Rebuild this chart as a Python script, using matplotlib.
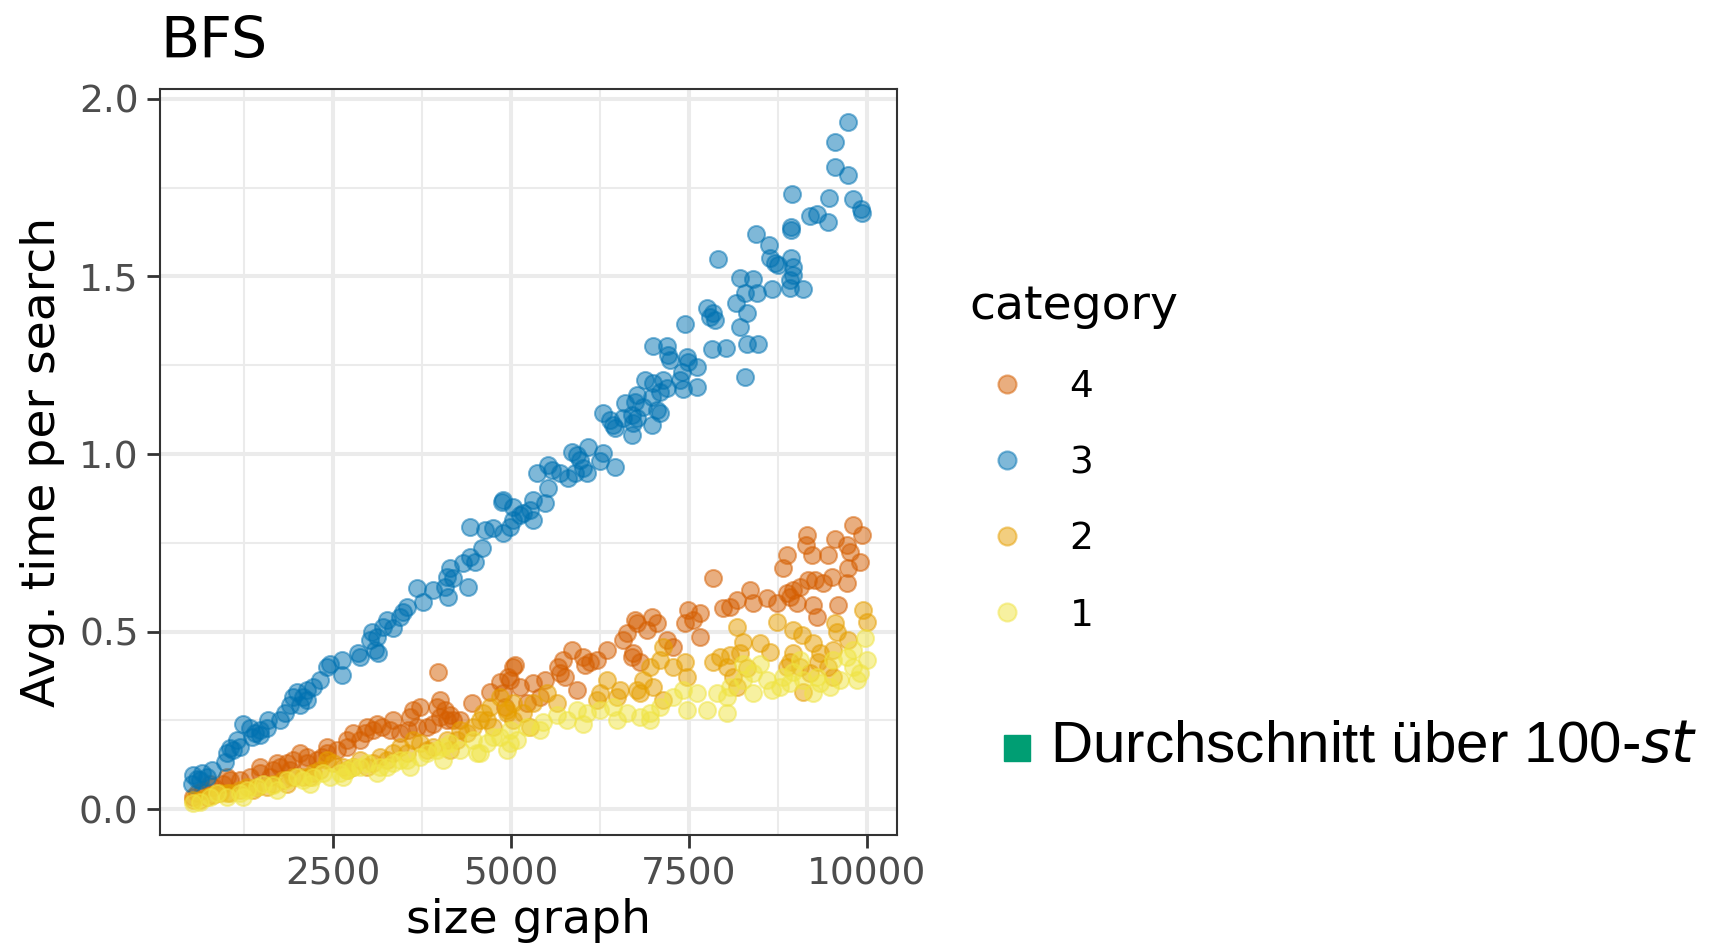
import matplotlib
matplotlib.use("Agg")
import matplotlib.pyplot as plt
from matplotlib.lines import Line2D
from matplotlib.colors import to_rgba

# category order as in the legend
categories = ["4", "3", "2", "1"]
palette = ["#D55E00", "#0072B2", "#E69F00", "#F0E442"]

# category 3 (blue)
size_3 = [9739, 9553, 9553, 9739, 8944, 9473, 9801, 9920, 9935, 9201, 9295, 9459,
          8930, 8930, 8443, 8630, 7913, 8640, 8710, 8757, 8930, 8958, 8967, 8920,
          8218, 8405, 8663, 8920, 9099, 8288, 8452, 8162, 8312, 8218, 7750, 7796,
          7866, 7843, 7445, 8320, 8475, 7820, 8021, 8288, 6991, 7188, 7211, 7234,
          7469, 7492, 7610, 7399, 7375, 7618, 7413, 6883, 7000, 7141, 7188, 7094,
          6977, 6766, 6602, 6743, 6860, 7047, 7094, 6977, 6297, 6391, 6461, 6438,
          6696, 6766, 6719, 6696, 6579, 5361, 5524, 5572, 5689, 5853, 5923, 6086,
          5970, 6017, 5900, 6251, 6297, 6461, 5806, 6063, 5524, 5316, 5480, 4892,
          5033, 5127, 5268, 5316, 5175, 4870, 4424, 4635, 4752, 4892, 4986, 5033,
          4589, 4424, 4495, 4330, 4401, 4143, 4097, 4190, 4120, 4073, 3909, 3768,
          3675, 3535, 3441, 3488, 3254, 3347, 3206, 3043, 3113, 3019, 3136, 3090,
          2855, 2879, 2622, 2622, 2411, 2457, 2317, 2224, 2130, 2083, 1942, 1896,
          2036, 2130, 1990, 1825, 1755, 1591, 1568, 1474, 1404, 1334, 1240, 1358,
          1474, 1147, 1052, 1006, 1099, 982, 1193, 795, 655, 584, 514, 631, 725, 537]
time_3 = [1.934, 1.880, 1.809, 1.786, 1.732, 1.720, 1.717, 1.690, 1.680, 1.670, 1.676, 1.654,
          1.640, 1.631, 1.620, 1.589, 1.549, 1.551, 1.537, 1.532, 1.551, 1.528, 1.504, 1.490,
          1.495, 1.492, 1.465, 1.467, 1.465, 1.453, 1.453, 1.425, 1.398, 1.357, 1.410, 1.387,
          1.377, 1.396, 1.365, 1.310, 1.310, 1.295, 1.298, 1.218, 1.305, 1.304, 1.279, 1.265,
          1.274, 1.260, 1.246, 1.232, 1.208, 1.190, 1.182, 1.208, 1.199, 1.208, 1.185, 1.175,
          1.161, 1.166, 1.143, 1.147, 1.133, 1.124, 1.115, 1.082, 1.115, 1.096, 1.072, 1.082,
          1.110, 1.101, 1.087, 1.054, 1.101, 0.946, 0.969, 0.955, 0.946, 1.007, 0.997, 1.021,
          0.983, 0.960, 0.946, 0.979, 1.002, 0.964, 0.932, 0.946, 0.903, 0.870, 0.861, 0.870,
          0.852, 0.828, 0.842, 0.814, 0.833, 0.866, 0.795, 0.786, 0.791, 0.777, 0.795, 0.814,
          0.734, 0.711, 0.697, 0.692, 0.626, 0.678, 0.654, 0.650, 0.598, 0.626, 0.617, 0.584,
          0.622, 0.570, 0.542, 0.556, 0.532, 0.509, 0.513, 0.499, 0.485, 0.476, 0.439, 0.448,
          0.439, 0.429, 0.420, 0.377, 0.401, 0.410, 0.363, 0.345, 0.335, 0.316, 0.316, 0.293,
          0.293, 0.307, 0.330, 0.270, 0.251, 0.251, 0.227, 0.223, 0.213, 0.227, 0.241, 0.204,
          0.208, 0.194, 0.171, 0.157, 0.166, 0.133, 0.175, 0.110, 0.101, 0.086, 0.072, 0.082,
          0.091, 0.096]

# category 4 (vermillion)
size_4 = [9810, 9928, 9553, 9717, 9763, 9904, 9739, 9155, 9145, 9225, 9459, 8874,
          8826, 9717, 9599, 9506, 9388, 9272, 9178, 9061, 8967, 8920, 9014, 8874,
          9248, 9295, 8733, 8593, 8405, 8358, 8171, 8077, 7983, 7843, 7656, 7562,
          7492, 7445, 7656, 7281, 7188, 7047, 6977, 6907, 6766, 6743, 6626, 6579,
          6719, 6813, 6696, 6345, 6204, 6110, 6016, 5853, 5735, 5665, 5759, 5689,
          5923, 6040, 5057, 4986, 4892, 5127, 5314, 5478, 5408, 5221, 4916, 3979,
          5033, 4963, 4846, 4705, 4448, 4003, 4073, 4143, 4190, 4003, 3909, 3816,
          3628, 3581, 3675, 3558, 3441, 3300, 3184, 3066, 2949, 2879, 2785, 2692,
          2552, 2411, 2341, 2271, 2130, 2036, 1942, 1849, 1896, 1755, 1662, 1614,
          1474, 1334, 1193, 1052, 958, 818, 677, 584, 537,
          2411, 2692, 2973, 3113, 3347, 3722, 3956, 4097, 4284, 2130, 1708, 1474,
          1006, 771]
time_4 = [0.800, 0.772, 0.762, 0.744, 0.725, 0.697, 0.678, 0.772, 0.744, 0.715, 0.715, 0.715,
          0.678, 0.636, 0.575, 0.654, 0.636, 0.645, 0.645, 0.626, 0.617, 0.598, 0.579, 0.608,
          0.575, 0.542, 0.579, 0.594, 0.579, 0.617, 0.589, 0.570, 0.565, 0.650, 0.551, 0.532,
          0.561, 0.523, 0.485, 0.457, 0.476, 0.523, 0.542, 0.504, 0.523, 0.532, 0.495, 0.476,
          0.439, 0.415, 0.429, 0.448, 0.420, 0.415, 0.429, 0.448, 0.420, 0.401, 0.373, 0.382,
          0.335, 0.406, 0.406, 0.363, 0.326, 0.345, 0.354, 0.363, 0.316, 0.298, 0.288, 0.387,
          0.401, 0.373, 0.359, 0.330, 0.298, 0.307, 0.279, 0.265, 0.251, 0.260, 0.241, 0.232,
          0.279, 0.260, 0.232, 0.223, 0.213, 0.223, 0.232, 0.223, 0.213, 0.194, 0.213, 0.175,
          0.166, 0.157, 0.147, 0.138, 0.147, 0.157, 0.138, 0.129, 0.110, 0.119, 0.110, 0.091,
          0.101, 0.091, 0.082, 0.082, 0.072, 0.063, 0.054, 0.044, 0.035,
          0.175, 0.194, 0.232, 0.241, 0.251, 0.288, 0.288, 0.251, 0.251, 0.129, 0.129, 0.119,
          0.091, 0.072]

# category 2 (orange)
size_2 = [9951, 9998, 9553, 9577, 9739, 9529, 9342, 9248, 9085, 8967, 8733, 8967,
          8920, 9061, 9318, 9459, 9529, 9201, 9108, 8874, 8640, 8499, 8265, 8171,
          8218, 8077, 7937, 7843, 8031, 8124, 8171, 8312, 7445, 7469, 7281, 7140,
          7094, 6953, 6860, 6766, 7000, 7140, 6813, 6532, 6485, 6345, 6251, 6204,
          5642, 5502, 5314, 5173, 5033, 4940, 5268, 4846, 4705, 4611, 4565, 4752,
          4471, 4284, 4237, 4143, 3909, 3722, 3628, 3441, 3347, 3160, 3066, 2879,
          2785, 2644, 2504, 2411, 2317, 2224, 2083, 1942, 1801, 1662, 1568, 1427,
          1287, 1193, 1052, 912, 818, 725, 631, 537,
          5033, 4940, 4659, 4378, 4097, 3816, 3535, 3254, 2973, 2692, 2177, 1849,
          1380, 1006]
time_2 = [0.561, 0.528, 0.523, 0.499, 0.476, 0.448, 0.439, 0.467, 0.490, 0.504, 0.528, 0.439,
          0.415, 0.401, 0.415, 0.401, 0.373, 0.382, 0.330, 0.401, 0.443, 0.467, 0.471, 0.514,
          0.439, 0.434, 0.429, 0.415, 0.401, 0.373, 0.345, 0.396, 0.415, 0.373, 0.401, 0.457,
          0.420, 0.401, 0.363, 0.335, 0.345, 0.307, 0.326, 0.335, 0.316, 0.363, 0.326, 0.307,
          0.298, 0.326, 0.298, 0.270, 0.251, 0.279, 0.232, 0.316, 0.288, 0.270, 0.251, 0.232,
          0.232, 0.223, 0.194, 0.166, 0.175, 0.185, 0.194, 0.175, 0.157, 0.147, 0.129, 0.138,
          0.119, 0.119, 0.129, 0.138, 0.110, 0.101, 0.091, 0.091, 0.082, 0.072, 0.063, 0.063,
          0.063, 0.054, 0.044, 0.044, 0.039, 0.035, 0.025, 0.025,
          0.298, 0.270, 0.251, 0.213, 0.194, 0.166, 0.157, 0.138, 0.119, 0.110, 0.091, 0.072,
          0.054, 0.044]

# category 1 (yellow)
size_1 = [537, 631, 771, 865, 1006, 1193, 1287, 1427, 1521, 1662, 1849, 1990,
          2083, 2224, 2364, 2457, 2598, 2692, 2785, 2879, 2973, 3160, 3254, 3347,
          3441, 3535, 3722, 3816, 3956, 4050, 4143, 4284, 4471, 4565, 4659, 4752,
          4846, 4986, 5080, 4986, 5221, 5454, 5642, 5783, 5923, 6063, 6251, 6438,
          6626, 6813, 6953, 7094, 7281, 7421, 7609, 7750, 7890, 8031, 8077, 8265,
          8405, 8593, 8663, 8826, 8967, 9108, 9295, 9482, 9623, 9810, 9904, 9974,
          9998, 9717, 9342, 8920, 9529, 9061, 8499, 8265,
          1240, 1708, 2177, 2644, 3113, 3581, 4050, 4518, 4940, 5408, 6016, 6485,
          6953, 7469, 8031, 8405, 8780, 9248, 9857, 9810]
time_1 = [0.016, 0.021, 0.035, 0.044, 0.035, 0.044, 0.054, 0.063, 0.072, 0.068, 0.082, 0.091,
          0.082, 0.091, 0.101, 0.091, 0.101, 0.110, 0.119, 0.119, 0.129, 0.119, 0.119, 0.129,
          0.138, 0.138, 0.147, 0.157, 0.166, 0.175, 0.185, 0.166, 0.194, 0.157, 0.185, 0.204,
          0.204, 0.185, 0.194, 0.223, 0.232, 0.246, 0.265, 0.251, 0.279, 0.270, 0.279, 0.288,
          0.270, 0.260, 0.270, 0.288, 0.316, 0.335, 0.326, 0.279, 0.326, 0.270, 0.345, 0.363,
          0.382, 0.363, 0.335, 0.373, 0.387, 0.363, 0.373, 0.345, 0.363, 0.401, 0.382, 0.481,
          0.420, 0.429, 0.354, 0.354, 0.420, 0.420, 0.410, 0.410,
          0.035, 0.054, 0.072, 0.091, 0.101, 0.119, 0.138, 0.157, 0.166, 0.223, 0.241, 0.251,
          0.251, 0.279, 0.316, 0.326, 0.345, 0.326, 0.363, 0.448]

x_ticks = [2500, 5000, 7500, 10000]
x_minor = [1250, 3750, 6250, 8750]
y_ticks = [0.0, 0.5, 1.0, 1.5, 2.0]
y_minor = [0.25, 0.75, 1.25, 1.75]

series = {
    "4": (size_4, time_4),
    "3": (size_3, time_3),
    "2": (size_2, time_2),
    "1": (size_1, time_1),
}

plt.rcParams["font.family"] = ["DejaVu Sans"]

fig = plt.figure(figsize=(17.21, 9.48), dpi=100)
ax = fig.add_axes([0.0930, 0.1192, 0.4282, 0.7869])

for cat, col in zip(categories, palette):
    xs, ys = series[cat]
    ax.scatter(xs, ys, s=150, facecolor=to_rgba(col, 0.5), edgecolor=to_rgba(col, 0.5),
               linewidths=1.5, zorder=3)

ax.set_xlim(69, 10424)
ax.set_ylim(-0.073, 2.028)
ax.set_xticks(x_ticks)
ax.set_xticks(x_minor, minor=True)
ax.set_yticks(y_ticks)
ax.set_yticks(y_minor, minor=True)
ax.set_xticklabels([str(t) for t in x_ticks])
ax.set_yticklabels([f"{t:.1f}" for t in y_ticks])

ax.grid(which="major", color="#EBEBEB", linewidth=2.9, zorder=0)
ax.grid(which="minor", color="#EBEBEB", linewidth=1.5, zorder=0)
ax.set_axisbelow(True)
for sp in ax.spines.values():
    sp.set_color("#333333")
    sp.set_linewidth(1.5)

ax.tick_params(which="major", length=9.5, width=2.0, color="#333333",
               labelsize=27, labelcolor="#4D4D4D", pad=6)
ax.tick_params(which="minor", length=0)

ax.set_xlabel("size graph", fontsize=34, labelpad=4)
ax.set_ylabel("Avg. time per search", fontsize=34, labelpad=10)
ax.set_title("BFS", fontsize=41, loc="left", pad=22)

handles = [Line2D([], [], linestyle="none", marker="o", markersize=13,
                  markerfacecolor=to_rgba(c, 0.5), markeredgecolor=to_rgba(c, 0.5),
                  markeredgewidth=1.5) for c in palette]
leg = fig.legend(handles, categories, title="category", loc="upper left",
                 bbox_to_anchor=(969 / 1721, 1 - 284 / 948), frameon=False,
                 fontsize=27, title_fontsize=34, alignment="left",
                 handlelength=2.0, handletextpad=0.68, labelspacing=1.07,
                 borderpad=0, borderaxespad=0)

fig.add_artist(Line2D([1017 / 1721], [1 - 748 / 948], marker="s", markersize=19,
                      color="#009E73", linestyle="none", transform=fig.transFigure))
fig.text(1050 / 1721, 1 - 747 / 948, "Durchschnitt über 100-$st$",
         fontsize=42, family="Liberation Sans", va="center", ha="left")

fig.savefig("out.png", dpi=100)
